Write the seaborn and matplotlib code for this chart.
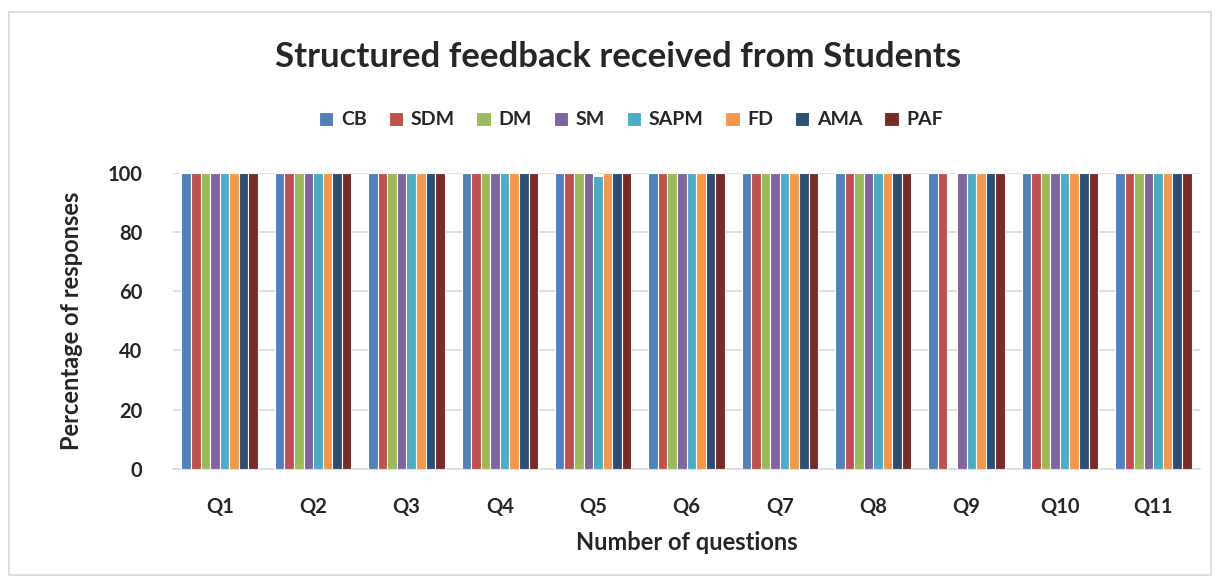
import pandas as pd
import numpy as np
import matplotlib
matplotlib.use('Agg')
import matplotlib.pyplot as plt
import seaborn as sns

# ### chart data
questions = ['Q1', 'Q2', 'Q3', 'Q4', 'Q5', 'Q6', 'Q7', 'Q8', 'Q9', 'Q10', 'Q11']
series = ['CB', 'SDM', 'DM', 'SM', 'SAPM', 'FD', 'AMA', 'PAF']

CB   = [100, 100, 100, 100, 100, 100, 100, 100, 100, 100, 100]
SDM  = [100, 100, 100, 100, 100, 100, 100, 100, 100, 100, 100]
DM   = [100, 100, 100, 100, 100, 100, 100, 100, 0, 100, 100]
SM   = [100, 100, 100, 100, 100, 100, 100, 100, 100, 100, 100]
SAPM = [100, 100, 100, 100, 99, 100, 100, 100, 100, 100, 100]
FD   = [100, 100, 100, 100, 100, 100, 100, 100, 100, 100, 100]
AMA  = [100, 100, 100, 100, 100, 100, 100, 100, 100, 100, 100]
PAF  = [100, 100, 100, 100, 100, 100, 100, 100, 100, 100, 100]

colors = ['#4F81BD', '#C0504D', '#9BBB59', '#8064A2',
          '#4BACC6', '#F79646', '#2C4D75', '#772C2A']

values = [CB, SDM, DM, SM, SAPM, FD, AMA, PAF]
rows = []
for name, vals in zip(series, values):
    for q, v in zip(questions, vals):
        rows.append({'Question': q, 'Group': name, 'Percent': v})
df = pd.DataFrame(rows)

sns.set_style('white')
plt.rcParams['font.family'] = ['Lato', 'DejaVu Sans']

fig = plt.figure(figsize=(12.17, 5.81), dpi=100)
ax = fig.add_axes([0.1422, 0.1928, 0.8438, 0.51])

sns.barplot(data=df, x='Question', y='Percent', hue='Group',
            order=questions, hue_order=series, palette=colors,
            width=0.82, edgecolor='white', linewidth=0.8,
            saturation=1, ax=ax, zorder=3)

ax.set_ylim(0, 100)
ax.set_yticks(np.arange(0, 101, 20))
ax.grid(axis='y', color='#d9d9d9', linewidth=1.2, zorder=0)
ax.set_axisbelow(True)
for s in ['top', 'right', 'left']:
    ax.spines[s].set_visible(False)
ax.spines['bottom'].set_color('#d9d9d9')
ax.spines['bottom'].set_linewidth(1.2)
ax.tick_params(axis='both', length=0)
ax.tick_params(axis='y', pad=22)
ax.tick_params(axis='x', pad=20)
for lab in ax.get_xticklabels() + ax.get_yticklabels():
    lab.set_fontweight('bold')
    lab.set_fontsize(14.5)

ax.set_xlabel('Number of questions', fontsize=17, fontweight='bold', labelpad=10)
ax.set_ylabel('Percentage of responses', fontsize=17, fontweight='bold', labelpad=18)

fig.suptitle('Structured feedback received from Students', x=0.508, y=0.902,
             fontsize=25, fontweight='bold', va='center')

ax.legend(loc='center', bbox_to_anchor=(0.446, 1.178), ncol=8, frameon=False,
          prop={'weight': 'bold', 'size': 14}, handlelength=0.75, handleheight=0.75,
          columnspacing=1.1, handletextpad=0.4)

# chart area border
fig.patches.append(plt.Rectangle((0.007, 0.01), 0.988, 0.97, transform=fig.transFigure,
                                 fill=False, edgecolor='#d9d9d9', linewidth=1.2))

fig.savefig('out.png', dpi=100)
